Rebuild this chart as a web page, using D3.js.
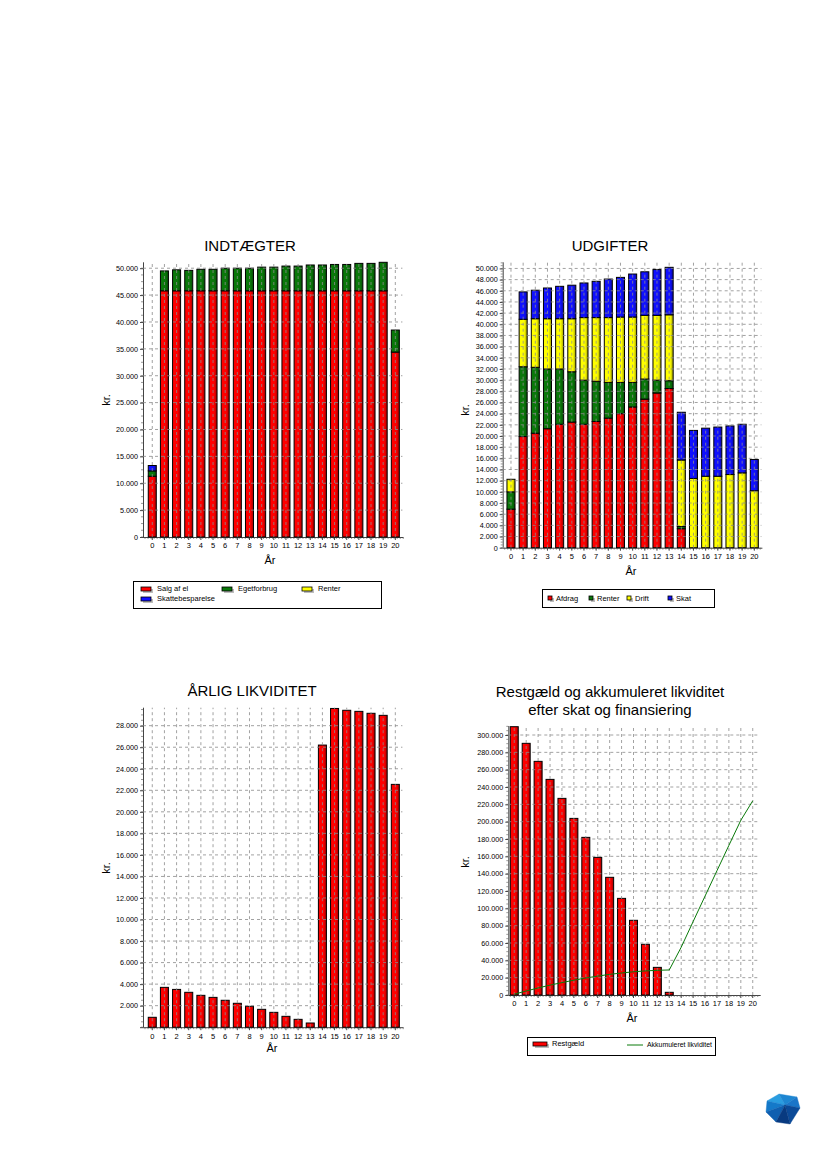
<!DOCTYPE html>
<html>
<head>
<meta charset="utf-8">
<script src="https://cdn.jsdelivr.net/npm/d3@7"></script>
<style>
  body { margin: 0; background: #fff; }
  text { font-family: "Liberation Sans", Arial, sans-serif; }
</style>
</head>
<body>
<script>
// år 0..20
const years = d3.range(0, 21);

// INDTÆGTER
const salgAfEl = [11300, 45800, 45800, 45800, 45800, 45800, 45800, 45800, 45800, 45800, 45800,
  45800, 45800, 45800, 45800, 45800, 45800, 45800, 45800, 45800, 34400];
const egetforbrug = [1000, 3700, 3900, 3800, 4000, 4000, 4200, 4200, 4200, 4400, 4400,
  4600, 4600, 4800, 4800, 4900, 4900, 5100, 5100, 5300, 4100];
const renterInd = years.map(() => 0);
const skattebesparelse = [1000, 0, 0, 0, 0, 0, 0, 0, 0, 0, 0, 0, 0, 0, 0, 0, 0, 0, 0, 0, 0];
const indTicks = [0, 5000, 10000, 15000, 20000, 25000, 30000, 35000, 40000, 45000, 50000];

// UDGIFTER
const afdrag = [6900, 19900, 20500, 21300, 22100, 22500, 22100, 22600, 23200, 24000, 25200,
  26600, 27700, 28500, 3400, 0, 0, 0, 0, 0, 0];
const renterUd = [3100, 12500, 11800, 10700, 9900, 9000, 7900, 7200, 6400, 5600, 4400,
  3600, 2300, 1400, 400, 0, 0, 0, 0, 0, 0];
const drift = [2250, 8500, 8700, 9000, 9000, 9500, 11200, 11400, 11600, 11700, 11700,
  11400, 11600, 11800, 11900, 12400, 12800, 12800, 13100, 13400, 10200];
const skat = [0, 4900, 5100, 5500, 5800, 6000, 6200, 6500, 6900, 7100, 7700,
  7800, 8200, 8500, 8550, 8600, 8600, 8800, 8700, 8700, 5600];
const udTicks = d3.range(0, 50001, 2000);

// ÅRLIG LIKVIDITET
const likviditet = [920, 3700, 3510, 3240, 2960, 2770, 2500, 2220, 1940, 1660, 1380,
  1010, 730, 390, 26200, 29600, 29430, 29330, 29150, 28960, 22550];
const likTicks = d3.range(0, 28001, 2000);

// Restgæld og akkumuleret likviditet
const restgaeld = [309600, 290400, 269600, 248800, 226900, 203800, 181900, 158800, 135800,
  111500, 86200, 58500, 31900, 3100, 0, 0, 0, 0, 0, 0, 0];
const akkumuleret = [920, 4600, 8100, 11400, 14300, 17100, 19600, 21800, 23800, 25400, 26800,
  27800, 28500, 28900, 55100, 84700, 114100, 143400, 172600, 201600, 224100];
const restTicks = d3.range(0, 300001, 20000);

const C = { red: "#ff0000", green: "#0a780a", yellow: "#ffff00", blue: "#1010ff" };
const fmt = d => d3.format(",")(d).replace(/,/g, ".");

const svg = d3.select("body").append("svg").attr("width", 826).attr("height", 1169);
const defs = svg.append("defs");

// skyggede søjler (mørkere højre kant)
function grad(id, c) {
  const g = defs.append("linearGradient").attr("id", id).attr("x1", 0).attr("x2", 1);
  g.append("stop").attr("offset", "0%").attr("stop-color", c);
  g.append("stop").attr("offset", "62%").attr("stop-color", c);
  g.append("stop").attr("offset", "100%").attr("stop-color", d3.color(c).darker(1.3));
}
grad("gRed", C.red); grad("gGreen", C.green); grad("gYellow", C.yellow); grad("gBlue", C.blue);
const fillOf = { red: "url(#gRed)", green: "url(#gGreen)", yellow: "url(#gYellow)", blue: "url(#gBlue)" };

function frame(o) {
  const g = svg.append("g");
  const x = d3.scaleBand().domain(years).range(o.xr).paddingInner(o.pad).paddingOuter(o.pad / 2);
  const y = d3.scaleLinear().domain([0, o.ymax]).range(o.yr);

  // titel
  o.title.forEach((t, i) => {
    g.append("text").attr("x", o.tx).attr("y", o.ty + i * 18).attr("text-anchor", "middle")
      .attr("font-size", 15).text(t);
  });

  // akser
  const xa = g.append("g").attr("transform", `translate(0,${o.yr[0]})`)
    .call(d3.axisBottom(x).tickSize(3).tickPadding(3));
  xa.select(".domain").attr("d", `M${o.ax},0.5H${o.xr[1] + 2}`).attr("stroke", "#444");
  xa.selectAll("text").attr("font-size", 7.5).attr("fill", "#000");
  xa.selectAll("line").attr("stroke", "#444");
  // små mellemstreger
  const step = x.step();
  const minor = d3.range(o.ax + 2, o.xr[1] + 2, step / 4);
  g.selectAll(null).data(minor).join("line")
    .attr("x1", d => d).attr("x2", d => d)
    .attr("y1", o.yr[0]).attr("y2", o.yr[0] + 2).attr("stroke", "#555").attr("stroke-width", 0.6);

  const yfmt = o.hideZero ? (d => d === 0 ? "" : fmt(d)) : fmt;
  const ya = g.append("g").attr("transform", `translate(${o.ax},0)`)
    .call(d3.axisLeft(y).tickValues(o.ticks).tickFormat(yfmt).tickSize(3).tickPadding(2));
  ya.select(".domain").attr("d", `M0.5,${o.yr[0]}V${o.yr[1]}`).attr("stroke", "#444");
  ya.selectAll("text").attr("font-size", 7.2).attr("fill", "#000");
  ya.selectAll("line").attr("stroke", "#444");
  const ym = d3.range(o.yr[0], o.yr[1], -(y(0) - y(o.ticks[1] - o.ticks[0])) / 4);
  g.selectAll(null).data(ym).join("line")
    .attr("x1", o.ax - 2).attr("x2", o.ax).attr("y1", d => d).attr("y2", d => d)
    .attr("stroke", "#555").attr("stroke-width", 0.6);

  // aksetekster
  g.append("text").attr("x", o.lx).attr("y", o.ly).attr("text-anchor", "middle")
    .attr("font-size", 11).text("År");
  g.append("text").attr("transform", `translate(${o.kx},${o.ky}) rotate(-90)`)
    .attr("text-anchor", "middle").attr("font-size", 11).text("kr.");

  const bars = g.append("g");
  const grid = g.append("g").attr("stroke", "#8a8a8a").attr("stroke-width", 0.8)
    .attr("stroke-dasharray", "3,3");
  return { g, x, y, bars, drawGrid: () => {
    grid.raise();
    grid.selectAll(null).data(o.ticks.filter(t => t > 0)).join("line")
      .attr("x1", o.ax).attr("x2", o.xr[1] + 1).attr("y1", d => y(d)).attr("y2", d => y(d));
    grid.selectAll(null).data(years).join("line")
      .attr("x1", d => x(d) + x.bandwidth() / 2).attr("x2", d => x(d) + x.bandwidth() / 2)
      .attr("y1", o.yr[0]).attr("y2", o.yr[1]);
  } };
}

function stackBars(f, series) {
  const keys = series.map((s, i) => "s" + i);
  const rows = years.map(i => {
    const r = { year: i };
    series.forEach((s, k) => r["s" + k] = s.values[i]);
    return r;
  });
  const stacked = d3.stack().keys(keys)(rows);
  stacked.forEach((layer, k) => {
    f.bars.selectAll(null).data(layer.filter(d => d[1] - d[0] > 0)).join("rect")
      .attr("x", d => f.x(d.data.year)).attr("width", f.x.bandwidth())
      .attr("y", d => f.y(d[1])).attr("height", d => f.y(d[0]) - f.y(d[1]))
      .attr("fill", fillOf[series[k].color]).attr("stroke", "#000").attr("stroke-width", 1);
  });
}

// ---------- INDTÆGTER ----------
const f1 = frame({ xr: [146.2, 401.4], pad: 0.34, yr: [537, 262.3], ymax: 51100, ax: 143,
  ticks: indTicks, title: ["INDTÆGTER"], tx: 250, ty: 251, lx: 270, ly: 564, kx: 110, ky: 400 });
stackBars(f1, [
  { values: salgAfEl, color: "red" },
  { values: egetforbrug, color: "green" },
  { values: renterInd, color: "yellow" },
  { values: skattebesparelse, color: "blue" }
]);
f1.drawGrid();

// ---------- UDGIFTER ----------
const f2 = frame({ xr: [504.9, 760.4], pad: 0.34, yr: [547.7, 262.3], ymax: 51100, ax: 502.7,
  ticks: udTicks, title: ["UDGIFTER"], tx: 610, ty: 251, lx: 631, ly: 575, kx: 469, ky: 410 });
stackBars(f2, [
  { values: afdrag, color: "red" },
  { values: renterUd, color: "green" },
  { values: drift, color: "yellow" },
  { values: skat, color: "blue" }
]);
f2.drawGrid();

// ---------- ÅRLIG LIKVIDITET ----------
const f3 = frame({ xr: [146.2, 401.4], pad: 0.34, yr: [1027.2, 707.7], ymax: 29670, ax: 143,
  ticks: likTicks, hideZero: true, title: ["ÅRLIG LIKVIDITET"], tx: 252, ty: 696, lx: 272, ly: 1052, kx: 110, ky: 868 });
stackBars(f3, [{ values: likviditet, color: "red" }]);
f3.drawGrid();

// ---------- Restgæld ----------
const f4 = frame({ xr: [508.3, 758.7], pad: 0.33, yr: [995, 726], ymax: 310400, ax: 508.3,
  ticks: restTicks, title: ["Restgæld og akkumuleret likviditet", "efter skat og finansiering"],
  tx: 610, ty: 697, lx: 632, ly: 1022, kx: 469, ky: 862 });
stackBars(f4, [{ values: restgaeld, color: "red" }]);
f4.drawGrid();
f4.g.append("path").datum(akkumuleret)
  .attr("fill", "none").attr("stroke", "#0a7a0a").attr("stroke-width", 1)
  .attr("d", d3.line().x((d, i) => f4.x(i) + f4.x.bandwidth() / 2).y(d => f4.y(d)));

// ---------- legender ----------
function swatch(g, x, y, w, h, c) {
  g.append("rect").attr("x", x + 2).attr("y", y + 2).attr("width", w).attr("height", h).attr("fill", "#bdbdbd");
  g.append("rect").attr("x", x).attr("y", y).attr("width", w).attr("height", h)
    .attr("fill", c).attr("stroke", "#000").attr("stroke-width", 0.8);
}
function ltext(g, x, y, t, len) {
  const el = g.append("text").attr("x", x).attr("y", y).attr("font-size", 7.5).text(t);
  if (len) el.attr("textLength", len).attr("lengthAdjust", "spacingAndGlyphs");
}

const l1 = svg.append("g");
l1.append("rect").attr("x", 133.5).attr("y", 581.5).attr("width", 248).attr("height", 27)
  .attr("fill", "#fff").attr("stroke", "#000");
[["Salg af el", C.red, 141, 587], ["Egetforbrug", C.green, 222, 587],
 ["Renter", C.yellow, 302, 587], ["Skattebesparelse", C.blue, 141, 597]].forEach(([t, c, x, y]) => {
  swatch(l1, x, y, 10, 4, c);
  ltext(l1, x + 16, y + 4, t);
});

const l2 = svg.append("g");
l2.append("rect").attr("x", 542.5).attr("y", 589.5).attr("width", 172).attr("height", 18)
  .attr("fill", "#fff").attr("stroke", "#000");
[["Afdrag", C.red, 548], ["Renter", C.green, 589], ["Drift", C.yellow, 627], ["Skat", C.blue, 668]]
  .forEach(([t, c, x]) => {
    swatch(l2, x, 596, 4, 4, c);
    ltext(l2, x + 8, 601, t);
  });

const l4 = svg.append("g");
l4.append("rect").attr("x", 527.5).attr("y", 1037.5).attr("width", 188).attr("height", 18)
  .attr("fill", "#fff").attr("stroke", "#000");
swatch(l4, 533, 1042, 14, 4, C.red);
ltext(l4, 552, 1046, "Restgæld");
l4.append("line").attr("x1", 627).attr("x2", 643).attr("y1", 1045).attr("y2", 1045)
  .attr("stroke", "#0a7a0a").attr("stroke-width", 1);
ltext(l4, 647, 1047, "Akkumuleret likviditet", 65);

// logo
const logo = svg.append("g");
const facets = [
  [[767, 1101], [779, 1094], [785, 1105], "#2a9de0"],
  [[779, 1094], [797, 1097], [785, 1105], "#1d86d2"],
  [[797, 1097], [800, 1108], [785, 1105], "#1a75c8"],
  [[767, 1101], [785, 1105], [766, 1112], "#1479c9"],
  [[766, 1112], [785, 1105], [776, 1122], "#0f5fb0"],
  [[785, 1105], [800, 1108], [790, 1124], "#0b4a98"],
  [[785, 1105], [790, 1124], [776, 1122], "#083a80"]
];
facets.forEach(([a, b, c, col]) => {
  logo.append("path").attr("d", `M${a}L${b}L${c}Z`).attr("fill", col).attr("stroke", col).attr("stroke-width", 0.4);
});
</script>
</body>
</html>
